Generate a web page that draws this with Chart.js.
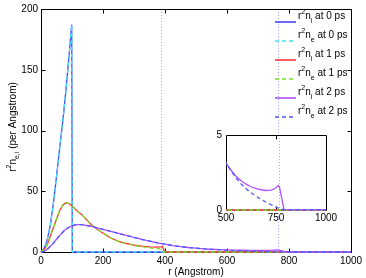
<!DOCTYPE html>
<html><head><meta charset="utf-8">
<script src="https://cdn.jsdelivr.net/npm/chart.js@4.4.1/dist/chart.umd.min.js"></script>
<style>
html,body{margin:0;padding:0;background:#fff;}
#wrap{position:relative;width:366px;height:278px;overflow:hidden;}
#main{position:absolute;left:0;top:0;}
#inset{position:absolute;left:196px;top:125px;}
</style></head><body>
<div id="wrap">
<canvas id="main" width="366" height="278"></canvas>
<canvas id="inset" width="150" height="100"></canvas>
</div>
<script>
// ---- data ----
const r0  = [0,10,20,30,40,50,60,70,80,90,99,101,1000];
const ni0 = [0,3,10,22,40,62,85,107,132,160,187,0,0];
const ne0 = [0,3,10,22,40,62,85,107,132,160,187,0,0];

const r1  = [0,10,20,30,40,50,60,70,80,90,100,110,120,130,140,160,180,200,225,250,275,300,325,350,375,388,392,398,405,1000];
const ni1 = [0,2,6,13,20,27,34,38.5,40.4,40,38,35.5,33,31,28.5,23,19,15.5,11.5,8.8,7,5.6,4.8,4.3,4.0,4.2,4.6,0.5,0,0];
const ne1 = [0,2,6,13,20,27,34,38.5,40.4,40,38,35.5,33,31,28.5,23,19,15.5,11.5,8.8,7,5.4,4.3,3.4,2.7,2.4,1.5,0,0,0];

const r2  = [0,10,20,30,40,50,60,70,80,90,100,110,120,130,140,160,180,200,225,250,275,300,325,350,375,400,425,450,475,500,525,550,575,600,625,650,675,700,725,740,750,762,768,790,1000];
const ni2 = [0,0.6,2.2,4.6,7.3,10.5,13.5,16.3,18.7,20.4,21.6,22.3,22.6,22.5,22.2,21.2,19.9,18.6,17,15.3,13.6,12,10.4,9,7.6,6.4,5.3,4.4,3.7,3.15,2.65,2.25,1.95,1.72,1.55,1.43,1.35,1.3,1.32,1.4,1.5,1.64,1.5,0.02,0.01];
const ne2 = [0,0.6,2.2,4.6,7.3,10.5,13.5,16.3,18.7,20.4,21.6,22.3,22.6,22.5,22.2,21.2,19.9,18.6,17,15.3,13.6,12,10.4,9,7.6,6.4,5.3,4.4,3.7,3.15,2.6,2.15,1.75,1.42,1.15,0.92,0.72,0.52,0.36,0.27,0.2,0.13,0.1,0.02,0.02];

const species = ['i','e','i','e','i','e'];
const times   = [0,0,1,1,2,2];
const frontPositions = [388, 766];

const mainXTicks = [0,200,400,600,800,1000];
const mainYTicks = [0,50,100,150,200];
const insetXTicks = [500,750,1000];
const insetYTicks = [0,5];

// ---- styles ----
const seriesR = [r0,r0,r1,r1,r2,r2];
const seriesV = [ni0,ne0,ni1,ne1,ni2,ne2];
const seriesColors = ['#4646ff','#3fe4ee','#ff3434','#74e01c','#b050ff','#4c5aff'];
const seriesDash = [[],[4,3],[],[4,3],[],[4,3]];
const FONT = "'Liberation Sans', Arial, Helvetica, sans-serif";

function makeDatasets(clip){
  return seriesR.map((rr,i)=>({
    label: 'r²n' + (species[i]==='i'?'ᵢ':'ₑ') + ' at ' + times[i] + ' ps',
    data: rr.map((x,k)=>({x:x, y:seriesV[i][k]})),
    borderColor: seriesColors[i],
    borderDash: seriesDash[i],
    borderWidth: 1.3,
    pointRadius: 0,
    fill: false,
    tension: 0,
    order: seriesR.length - i,
    clip: clip
  }));
}

const framePlugin = {
  id: 'frame',
  beforeDatasetsDraw(chart, args, opts){
    const {ctx, chartArea: ca} = chart;
    const x = chart.scales.x, y = chart.scales.y;
    ctx.save();
    if (opts.fill){ ctx.fillStyle = '#fff'; ctx.fillRect(ca.left, ca.top, ca.right-ca.left, ca.bottom-ca.top); }
    ctx.lineWidth = 1;
    ctx.strokeStyle = '#a4a4ff';
    ctx.setLineDash([1,2]);
    for (const f of frontPositions){
      if (f < x.min || f > x.max) continue;
      const px = Math.round(x.getPixelForValue(f)) + 0.5;
      ctx.beginPath(); ctx.moveTo(px, ca.top); ctx.lineTo(px, ca.bottom); ctx.stroke();
    }
    ctx.setLineDash([]);
    ctx.strokeStyle = '#000';
    const L = ca.left + 0.5, R = ca.right + 0.5, T = ca.top + 0.5, B = ca.bottom + 0.5;
    ctx.beginPath();
    ctx.moveTo(L,T); ctx.lineTo(R,T); ctx.lineTo(R,B); ctx.lineTo(L,B); ctx.closePath();
    ctx.stroke();
    const tl = 4;
    ctx.beginPath();
    for (const v of opts.xt){
      const px = Math.round(x.getPixelForValue(v)) + 0.5;
      ctx.moveTo(px, B); ctx.lineTo(px, B - tl);
      ctx.moveTo(px, T); ctx.lineTo(px, T + tl);
    }
    for (const v of opts.yt){
      const py = Math.round(y.getPixelForValue(v)) + 0.5;
      ctx.moveTo(L, py); ctx.lineTo(L + tl, py);
      ctx.moveTo(R, py); ctx.lineTo(R - tl, py);
    }
    ctx.stroke();
    ctx.restore();
  }
};

// draw text made of parts [text, size, baselineShift]
function drawParts(ctx, parts, x, y){
  let cx = x;
  for (const p of parts){
    ctx.font = p[1] + 'px ' + FONT;
    ctx.fillText(p[0], cx, y + p[2]);
    cx += ctx.measureText(p[0]).width;
  }
  return cx;
}
function partsWidth(ctx, parts){
  let w = 0;
  for (const p of parts){ ctx.font = p[1] + 'px ' + FONT; w += ctx.measureText(p[0]).width; }
  return w;
}

const annotPlugin = {
  id: 'annot',
  afterDraw(chart){
    const ctx = chart.ctx;
    ctx.save();
    ctx.fillStyle = '#000';
    ctx.textBaseline = 'alphabetic';
    ctx.textAlign = 'left';
    // y title
    const yParts = [['r',10,0],['2',7,-5],['n',10,0],['e,i',7,3],[' (per Angstrom)',10,0]];
    const w = partsWidth(ctx, yParts);
    ctx.save();
    ctx.translate(12, 127);
    ctx.rotate(-Math.PI/2);
    drawParts(ctx, yParts, -w/2, 3.5);
    ctx.restore();
    // legend
    for (let i = 0; i < species.length; i++){
      const ly = 22 + 19*i;
      ctx.save();
      ctx.strokeStyle = seriesColors[i];
      ctx.lineWidth = 1.6;
      ctx.setLineDash(seriesDash[i]);
      ctx.beginPath(); ctx.moveTo(275, ly); ctx.lineTo(296, ly); ctx.stroke();
      ctx.restore();
      ctx.fillStyle = '#000';
      const parts = [['r',10,0],['2',7,-5],['n',10,0],[species[i],7,4],[' at ' + times[i] + ' ps',10,0]];
      drawParts(ctx, parts, 298, ly - 3);
    }
    ctx.restore();
  }
};

function axisCommon(min, max, step, pad){
  return {
    type: 'linear', min: min, max: max,
    ticks: { stepSize: step, autoSkip: false, maxRotation: 0, color: '#000', padding: pad,
             font: { family: FONT, size: 10 }, callback: v => String(v) },
    grid: { display: false, drawTicks: false },
    border: { display: false }
  };
}

const mainX = axisCommon(0, 1000, 200, 3);
mainX.title = { display: true, text: 'r (Angstrom)', color: '#000', font: { family: FONT, size: 10 }, padding: {top:0, bottom:0} };
mainX.afterFit = s => { s.height = 26; };
const mainY = axisCommon(0, 200, 50, 3);
mainY.afterFit = s => { s.width = 41; };

new Chart(document.getElementById('main'), {
  type: 'line',
  data: { datasets: makeDatasets(false) },
  options: {
    responsive: false, animation: false, devicePixelRatio: 1,
    layout: { padding: { left: 0, top: 8, right: 15, bottom: 0 } },
    scales: { x: mainX, y: mainY },
    plugins: { legend: { display: false }, tooltip: { enabled: false },
               frame: { fill: false, xt: mainXTicks, yt: mainYTicks } }
  },
  plugins: [framePlugin, annotPlugin]
});

const insX = axisCommon(500, 1000, 250, 2);
insX.afterFit = s => { s.height = 15; };
const insY = axisCommon(0, 5, 5, 4);
insY.afterFit = s => { s.width = 30; };

new Chart(document.getElementById('inset'), {
  type: 'line',
  data: { datasets: makeDatasets({left:0, top:0, right:0, bottom:1}) },
  options: {
    responsive: false, animation: false, devicePixelRatio: 1,
    layout: { padding: { left: 0, top: 10, right: 20, bottom: 0 } },
    scales: { x: insX, y: insY },
    plugins: { legend: { display: false }, tooltip: { enabled: false },
               frame: { fill: true, xt: [750], yt: [] } }
  },
  plugins: [framePlugin]
});
</script>
</body></html>
